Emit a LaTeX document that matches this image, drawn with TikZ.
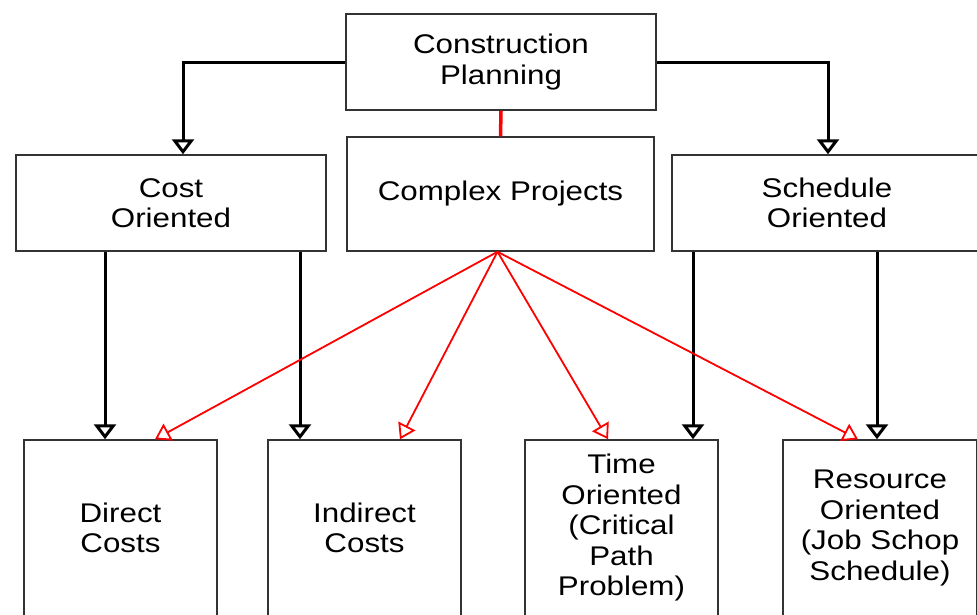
\documentclass[tikz,border=0pt]{standalone}
\usepackage{fontspec}
\setmainfont{Liberation Sans}[FakeStretch=1.16]
\usetikzlibrary{arrows.meta,positioning}
\tikzset{>={Triangle[open,length=15pt,width=22pt]}}
\tikzset{box/.style={draw=black!80,line width=1.5pt,align=center,
    font=\fontsize{27}{30.5}\selectfont,inner sep=0pt}}
\tikzset{blk/.style={->,line width=3pt,line join=miter},
    rd/.style={->,red,line width=1.8pt,>={Triangle[open,length=15pt,width=19pt]}}}

\begin{document}
\begin{tikzpicture}[x=1pt,y=1pt]
    \useasboundingbox (0,0) rectangle (977,-614);
    \clip (0,0) rectangle (977,-614);

    \node[box,minimum width=310pt,minimum height=96pt] (plan) at (501,-62) {Construction\\Planning};
    \node[box,minimum width=310pt,minimum height=96pt] (cost) at (171,-203) {Cost\\Oriented};
    \node[box,minimum width=307pt,minimum height=114pt] (cplx) at (500.5,-194) {Complex Projects};
    \node[box,minimum width=310pt,minimum height=96pt] (sched) at (827,-203) {Schedule\\Oriented};

    \node[box,minimum width=193pt,minimum height=176pt] (direct) at (120.5,-528) {Direct\\Costs};
    \node[box,minimum width=193pt,minimum height=176pt] (indirect) at (364.5,-528) {Indirect\\Costs};
    \node[box,minimum width=193pt,minimum height=176pt] (time) at (621.5,-528) {Time\\Oriented\\(Critical\\Path\\Problem)};
    \node[box,minimum width=194pt,minimum height=176pt] (res) at (880,-528) {Resource\\Oriented\\(Job Schop\\Schedule)};

    % planning to the two sides
    \draw[blk] (plan.west) -| ([xshift=12pt]cost.north);
    \draw[blk] (plan.east) -| ([xshift=1pt]sched.north);
    \draw[red,line width=3.5pt] (plan.south) -- (cplx.north);

    % sides to the leaves
    \draw[blk] ([xshift=-66pt]cost.south) -- ([xshift=-15.5pt]direct.north);
    \draw[blk] ([xshift=129pt]cost.south) -- ([xshift=-64.5pt]indirect.north);
    \draw[blk] ([xshift=-134pt]sched.south) -- ([xshift=71.5pt]time.north);
    \draw[blk] ([xshift=50pt]sched.south) -- ([xshift=-3pt]res.north);

    % complex projects
    \draw[rd] ([xshift=-3pt]cplx.south) -- ([xshift=34.5pt]direct.north);
    \draw[rd] ([xshift=-3pt]cplx.south) -- ([xshift=35.5pt]indirect.north);
    \draw[rd] ([xshift=-3pt]cplx.south) -- ([xshift=-13.5pt]time.north);
    \draw[rd] ([xshift=-3pt]cplx.south) -- ([xshift=-22pt]res.north);
\end{tikzpicture}
\end{document}
